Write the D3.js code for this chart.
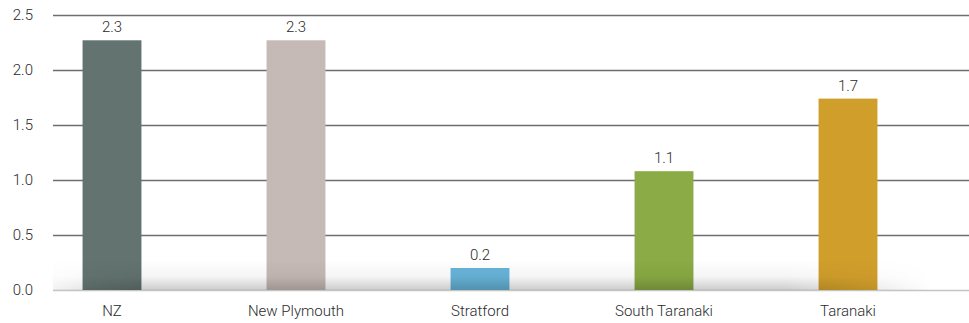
<!DOCTYPE html>
<html>
<head>
<meta charset="utf-8">
<script src="https://cdn.jsdelivr.net/npm/d3@7"></script>
<style>
  html, body { margin: 0; padding: 0; background: #fff; }
  svg { display: block; }
  text { font-family: Roboto, "Liberation Sans", Arial, sans-serif; font-weight: 300; }
</style>
</head>
<body>
<svg id="chart" width="969" height="323"></svg>
<script>
// Regions compared
const categories = ["NZ", "New Plymouth", "Stratford", "South Taranaki", "Taranaki"];
const values = [2.27, 2.27, 0.2, 1.08, 1.74];
const barColors = ["#627370", "#c6bab6", "#68b5da", "#8aab45", "#d09e2b"];
const yTicks = [0, 0.5, 1.0, 1.5, 2.0, 2.5];

const svg = d3.select("#chart");
const W = 969, H = 323;
const yTop = 15, yBottom = 290, gridLeft = 53;
const floorH = 30;
const fontSize = 15;

const x = d3.scaleBand()
  .domain(categories)
  .range([20, 940])
  .paddingInner(0.68)
  .paddingOuter(0.34);

const y = d3.scaleLinear().domain([0, 2.5]).range([yBottom, yTop]);

const defs = svg.append("defs");

// Soft floor shading near the baseline
const vg = defs.append("linearGradient").attr("id", "floorV")
  .attr("x1", 0).attr("y1", 0).attr("x2", 0).attr("y2", 1);
vg.append("stop").attr("offset", "0%").attr("stop-color", "#000").attr("stop-opacity", 0);
vg.append("stop").attr("offset", "55%").attr("stop-color", "#000").attr("stop-opacity", 0.04);
vg.append("stop").attr("offset", "100%").attr("stop-color", "#000").attr("stop-opacity", 0.2);

const hg = defs.append("linearGradient").attr("id", "floorH")
  .attr("x1", 0).attr("y1", 0).attr("x2", 1).attr("y2", 0);
[[0, 0.25], [0.1, 1], [0.8, 1], [0.96, 0]].forEach(([o, a]) =>
  hg.append("stop").attr("offset", o).attr("stop-color", "#fff").attr("stop-opacity", a));
defs.append("mask").attr("id", "floorMask")
  .append("rect")
  .attr("x", gridLeft).attr("y", yBottom - floorH)
  .attr("width", W - gridLeft).attr("height", floorH)
  .attr("fill", "url(#floorH)");

// Horizontal gridlines with tick labels
const yAxis = d3.axisLeft(y).tickValues(yTicks).tickFormat(d3.format(".1f"))
  .tickSize(-(W - gridLeft)).tickPadding(20);

const gAxis = svg.append("g").attr("transform", `translate(${gridLeft},0)`).call(yAxis);
gAxis.select(".domain").remove();
gAxis.selectAll(".tick line")
  .attr("stroke", d => d === 0 ? "#c4c4c4" : "#6e6e6e")
  .attr("stroke-width", 1.5);
gAxis.selectAll(".tick text")
  .attr("fill", "#2a2a2a").attr("font-size", fontSize);

// Bars
svg.append("g").selectAll("rect")
  .data(categories)
  .join("rect")
  .attr("x", d => x(d))
  .attr("y", (d, i) => y(values[i]))
  .attr("width", x.bandwidth())
  .attr("height", (d, i) => y(0) - y(values[i]))
  .attr("fill", (d, i) => barColors[i]);

// Floor shading over the baseline area
svg.append("rect")
  .attr("x", gridLeft).attr("y", yBottom - floorH)
  .attr("width", W - gridLeft).attr("height", floorH)
  .attr("fill", "url(#floorV)")
  .attr("mask", "url(#floorMask)");

// Value labels
svg.append("g").selectAll("text")
  .data(categories)
  .join("text")
  .attr("x", d => x(d) + x.bandwidth() / 2)
  .attr("y", (d, i) => y(values[i]) - 8)
  .attr("text-anchor", "middle")
  .attr("fill", "#2a2a2a")
  .attr("font-size", fontSize)
  .text((d, i) => d3.format(".1f")(values[i]));

// Category labels
const xAxis = d3.axisBottom(x).tickSize(0).tickPadding(15);
const gx = svg.append("g").attr("transform", `translate(0,${yBottom})`).call(xAxis);
gx.select(".domain").remove();
gx.selectAll(".tick text").attr("fill", "#2a2a2a").attr("font-size", fontSize);
</script>
</body>
</html>
